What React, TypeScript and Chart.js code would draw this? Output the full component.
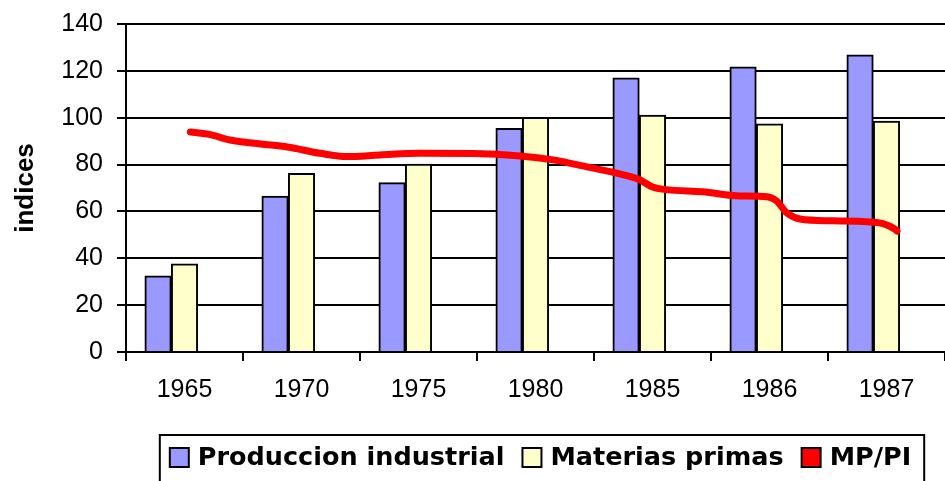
import React, { useEffect, useRef } from "react";
import { Chart, registerables } from "chart.js";

Chart.register(...registerables);

const categories = ["1965", "1970", "1975", "1980", "1985", "1986", "1987"];
const produccionIndustrial = [32.5, 66.5, 72.3, 95.5, 117, 121.7, 126.8];
const materiasPrimas = [37.6, 76.3, 80.2, 100.2, 101.1, 97.4, 98.6];
// MP/PI curve: position along the category axis (0 = 1965 ... 6 = 1987) and value
const ratioPos = [0.05, 0.22, 0.39, 0.65, 0.88, 1.16, 1.39, 1.67, 2.01, 2.47, 2.87, 3.15, 3.44, 3.72, 3.89, 4.0, 4.12, 4.43, 4.75, 4.98, 5.06, 5.15, 5.26, 5.54, 5.83, 5.97, 6.07, 6.09];
const ratioVal = [93.9, 92.8, 90.5, 88.8, 87.5, 84.8, 83.4, 84.1, 84.8, 84.7, 83.7, 82, 79, 76, 73.5, 70.4, 69.3, 68.4, 66.6, 66.3, 64.5, 59.3, 56.8, 56, 55.6, 54.8, 52.5, 51.6];
const yTicks = [0, 20, 40, 60, 80, 100, 120, 140];

// bar-pair placement within a category (in category units)
const BLUE_SHIFT = -0.226;
const YELLOW_SHIFT = 0;
const BAR_PX = 26.5;

const FONT = "'Liberation Sans', Arial, sans-serif";
const LEGEND_FONT = "bold 25.5px 'DejaVu Sans', sans-serif";

// Boxed legend drawn under the axis, items taken from the chart's datasets
const boxedLegend = {
  id: "boxedLegend",
  afterDraw(chart: any) {
    const ctx = chart.ctx;
    const ca = chart.chartArea;
    const items = chart.data.datasets.map((d: any) => ({ text: d.label, fill: d.backgroundColor }));
    const BOX = 19, GAP_TEXT = 9, GAP_ITEM = 18;
    ctx.save();
    ctx.font = LEGEND_FONT;
    const widths = items.map((it: any) => ctx.measureText(it.text).width);
    const total = widths.reduce((s: number, w: number) => s + BOX + GAP_TEXT + w, 0) + GAP_ITEM * (items.length - 1);
    let x = (ca.left + ca.right) / 2 + 5 - total / 2;
    const boxTop = 448;
    const midY = boxTop + BOX / 2 + 1;
    const start = x;
    items.forEach((it: any, i: number) => {
      ctx.fillStyle = it.fill;
      ctx.fillRect(x, boxTop, BOX, BOX);
      ctx.strokeStyle = "#000";
      ctx.lineWidth = 2;
      ctx.strokeRect(x, boxTop, BOX, BOX);
      x += BOX + GAP_TEXT;
      ctx.fillStyle = "#000";
      ctx.textBaseline = "middle";
      ctx.textAlign = "left";
      ctx.fillText(it.text, x, midY);
      x += widths[i] + (i < items.length - 1 ? GAP_ITEM : 0);
    });
    const left = start - 10;
    const right = x + 13;
    const top = boxTop - 13;
    ctx.strokeStyle = "#000";
    ctx.lineWidth = 2;
    ctx.strokeRect(left, top, right - left, chart.height + 20 - top);
    ctx.restore();
  },
};

export default function App() {
  const ref = useRef<HTMLCanvasElement | null>(null);
  useEffect(() => {
    document.body.style.margin = "0";
    const canvas = ref.current;
    if (!canvas) return;
    const chart = new Chart(canvas, {
      type: "bar",
      data: {
        labels: categories,
        datasets: [
          {
            type: "bar",
            label: "Produccion industrial",
            data: produccionIndustrial.map((v, i) => ({ x: i + BLUE_SHIFT, y: v })),
            xAxisID: "xl",
            backgroundColor: "#9999FF",
            borderColor: "#000000",
            borderWidth: 2,
            grouped: false,
            barThickness: BAR_PX,
            order: 2,
          },
          {
            type: "bar",
            label: "Materias primas",
            data: materiasPrimas.map((v, i) => ({ x: i + YELLOW_SHIFT, y: v })),
            xAxisID: "xl",
            backgroundColor: "#FFFFCC",
            borderColor: "#000000",
            borderWidth: 2,
            grouped: false,
            barThickness: BAR_PX,
            order: 2,
          },
          {
            type: "line",
            label: "MP/PI",
            data: ratioPos.map((p, i) => ({ x: p, y: ratioVal[i] })),
            xAxisID: "xl",
            borderColor: "#FF0000",
            backgroundColor: "#FF0000",
            borderWidth: 7,
            pointRadius: 0,
            tension: 0.4,
            cubicInterpolationMode: "monotone",
            borderCapStyle: "round",
            borderJoinStyle: "round",
            order: 0,
          } as any,
        ],
      },
      options: {
        responsive: false,
        animation: false,
        devicePixelRatio: 1,
        layout: { padding: { top: 24, right: 0, left: 0, bottom: 54 } },
        scales: {
          x: {
            type: "category",
            offset: true,
            afterFit: (s: any) => {
              s.height += 8;
            },
            grid: {
              offset: true,
              drawOnChartArea: false,
              drawTicks: true,
              tickLength: 9,
              color: "#000",
              lineWidth: 2,
            },
            border: { color: "#000", width: 2 },
            ticks: {
              color: "#000",
              font: { family: FONT, size: 25 },
              padding: 14,
              maxRotation: 0,
              autoSkip: false,
            },
          },
          xl: {
            type: "linear",
            display: false,
            offset: false,
            min: -0.5,
            max: 6.5,
            grid: { offset: false },
          },
          y: {
            min: 0,
            max: 140,
            afterFit: (s: any) => {
              s.width = 126;
              s.paddingTop = 0;
            },
            afterBuildTicks: (s: any) => {
              s.ticks = yTicks.map((v) => ({ value: v }));
            },
            grid: { color: "#000", lineWidth: 2, tickLength: 9 },
            border: { color: "#000", width: 2 },
            ticks: {
              color: "#000",
              font: { family: FONT, size: 25 },
              padding: 14,
            },
            title: {
              display: true,
              text: "indices",
              color: "#000",
              font: { family: FONT, size: 26, weight: "bold" },
              padding: { top: 10, bottom: 0 },
            },
          },
        },
        plugins: {
          tooltip: { enabled: false },
          legend: { display: false },
        },
      },
      plugins: [boxedLegend],
    } as any);
    return () => chart.destroy();
  }, []);
  return (
    <div style={{ width: 945, height: 481 }}>
      <canvas ref={ref} width={945} height={481} style={{ display: "block" }} />
    </div>
  );
}
